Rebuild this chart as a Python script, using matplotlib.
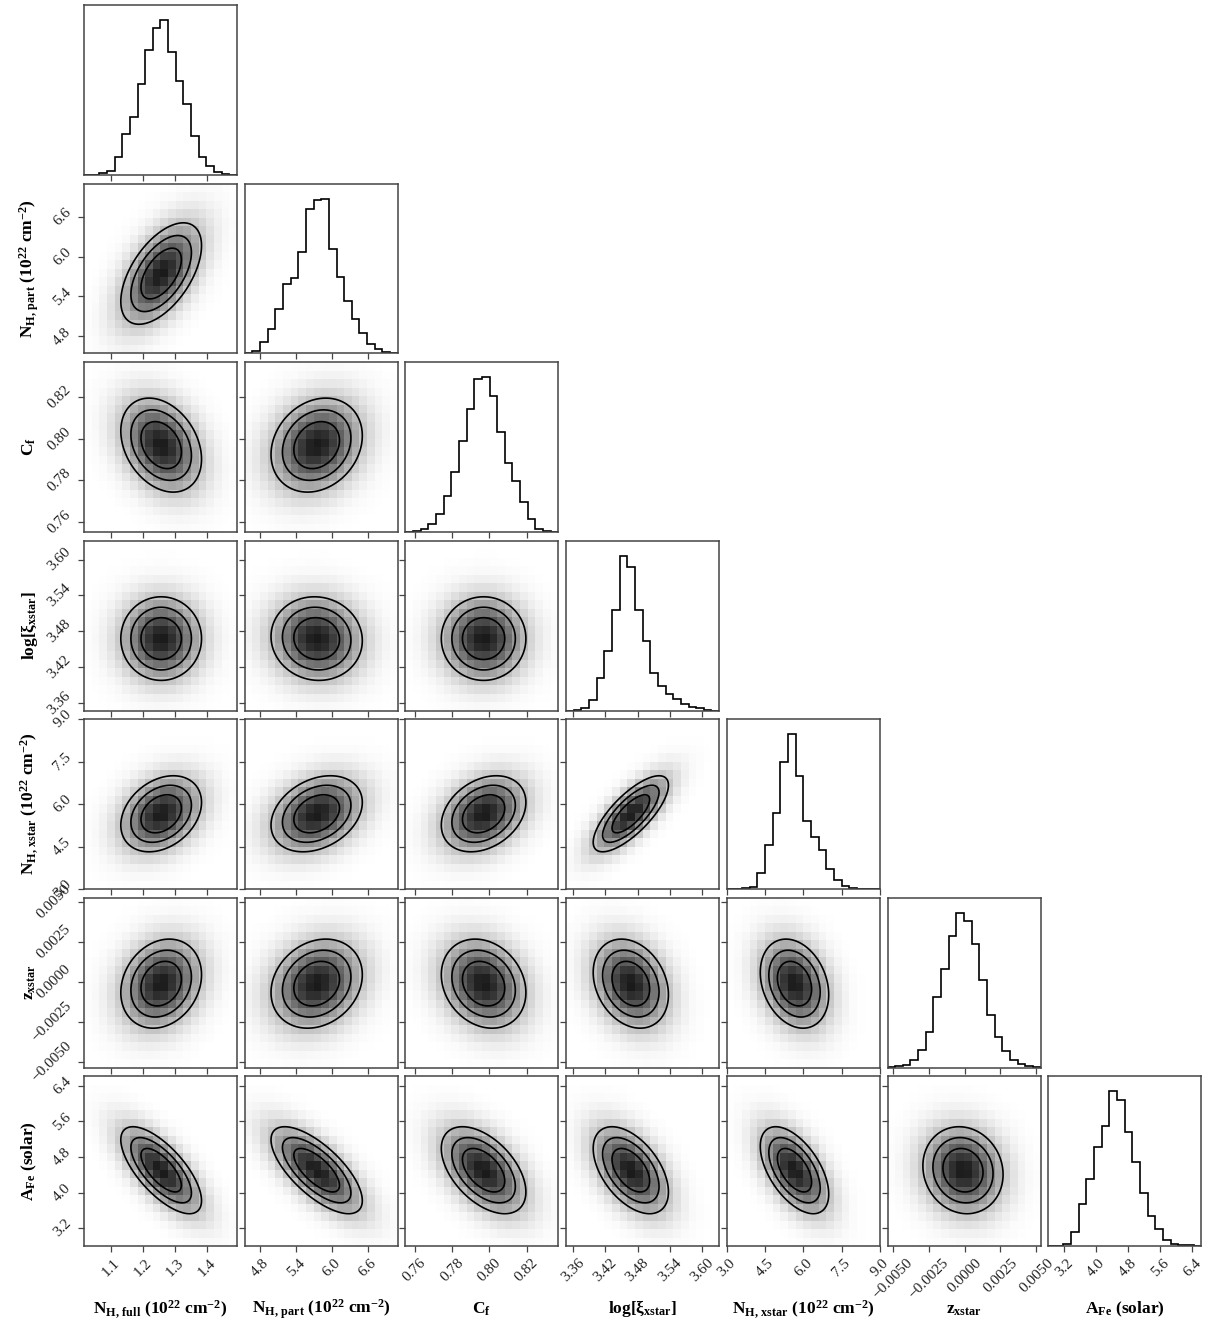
import numpy as np
import matplotlib
matplotlib.use("Agg")
import matplotlib.pyplot as plt
from matplotlib.colors import PowerNorm, LinearSegmentedColormap

plt.rcParams["font.family"] = ["Liberation Serif", "DejaVu Serif"]
plt.rcParams["mathtext.fontset"] = "custom"
plt.rcParams["mathtext.rm"] = "Liberation Serif:bold"
plt.rcParams["mathtext.bf"] = "Liberation Serif:bold"
plt.rcParams["mathtext.it"] = "Liberation Serif:bold"
plt.rcParams["mathtext.default"] = "rm"

# parameter names, plot ranges and ticks
labels = [
    "N$_{\\rm H,\\,full}$ (10$^{22}$ cm$^{-2}$)",
    "N$_{\\rm H,\\,part}$ (10$^{22}$ cm$^{-2}$)",
    "C$_{\\rm f}$",
    "log[ξ$_{\\rm xstar}$]",
    "N$_{\\rm H,\\,xstar}$ (10$^{22}$ cm$^{-2}$)",
    "z$_{\\rm xstar}$",
    "A$_{\\rm Fe}$ (solar)",
]
ranges = [(1.015, 1.495), (4.545, 7.095), (0.755, 0.837), (3.347, 3.632),
          (3.0, 9.0), (-0.00535, 0.00528), (2.80, 6.62)]
ticks = [
    [1.1, 1.2, 1.3, 1.4],
    [4.8, 5.4, 6.0, 6.6],
    [0.76, 0.78, 0.80, 0.82],
    [3.36, 3.42, 3.48, 3.54, 3.60],
    [3.0, 4.5, 6.0, 7.5, 9.0],
    [-0.005, -0.0025, 0.0, 0.0025, 0.005],
    [3.2, 4.0, 4.8, 5.6, 6.4],
]
tick_labels = [
    ["1.1", "1.2", "1.3", "1.4"],
    ["4.8", "5.4", "6.0", "6.6"],
    ["0.76", "0.78", "0.80", "0.82"],
    ["3.36", "3.42", "3.48", "3.54", "3.60"],
    ["3.0", "4.5", "6.0", "7.5", "9.0"],
    ["\u22120.0050", "\u22120.0025", "0.0000", "0.0025", "0.0050"],
    ["3.2", "4.0", "4.8", "5.6", "6.4"],
]

# 1D marginal histograms (20 bins over each range, relative counts)
hist_nh_full = [0, 1, 5, 11, 53, 124, 175, 272, 375, 441, 463, 367, 282, 212, 116, 53, 27, 8, 3, 0]
hist_nh_part = [0, 7, 35, 74, 132, 208, 226, 304, 434, 461, 463, 313, 230, 158, 103, 62, 28, 12, 5, 2]
hist_cf = [1, 4, 9, 25, 53, 107, 180, 271, 367, 457, 461, 406, 299, 207, 151, 89, 40, 10, 2, 0]
hist_logxi = [0, 2, 6, 31, 96, 177, 302, 463, 429, 302, 207, 111, 72, 49, 35, 20, 11, 6, 2, 0]
hist_nh_xstar = [0, 1, 2, 7, 47, 132, 229, 379, 463, 339, 203, 156, 116, 61, 26, 8, 4, 1, 0, 0]
hist_z = [1, 3, 7, 22, 51, 107, 211, 296, 394, 463, 440, 369, 261, 156, 90, 50, 22, 9, 3, 1]
hist_afe = [0, 1, 6, 42, 126, 202, 296, 360, 463, 436, 343, 253, 159, 91, 51, 19, 6, 3, 2, 0]
hists = [hist_nh_full, hist_nh_part, hist_cf, hist_logxi, hist_nh_xstar, hist_z, hist_afe]

rho = np.zeros((7, 7))
rho[1, 0] = 0.55
rho[2, 0], rho[2, 1] = -0.30, 0.20
rho[3, 0], rho[3, 1], rho[3, 2] = 0.0, -0.05, 0.0
rho[4, 0], rho[4, 1], rho[4, 2], rho[4, 3] = 0.30, 0.30, 0.30, 0.75
rho[5, 0], rho[5, 1], rho[5, 2], rho[5, 3], rho[5, 4] = 0.20, 0.20, -0.20, -0.25, -0.25
rho[6, 0], rho[6, 1], rho[6, 2], rho[6, 3], rho[6, 4], rho[6, 5] = -0.70, -0.70, -0.50, -0.50, -0.55, -0.10

n = len(labels)
edges = [np.linspace(lo, hi, 21) for lo, hi in ranges]
centers = [0.5 * (e[1:] + e[:-1]) for e in edges]
means, sds = [], []
for c, h in zip(centers, hists):
    w = np.asarray(h, float)
    m = np.sum(w * c) / w.sum()
    means.append(m)
    sds.append(np.sqrt(np.sum(w * (c - m) ** 2) / w.sum()))


def gauss2d(X, Y, i, j):
    u = (X - means[j]) / sds[j]
    v = (Y - means[i]) / sds[i]
    r = rho[i, j]
    return np.exp(-(u * u - 2 * r * u * v + v * v) / (2 * (1 - r * r)))


density_cmap = LinearSegmentedColormap.from_list("dens", [(1, 1, 1), (0.1, 0.1, 0.1)])

W, H = 1205, 1325
fig = plt.figure(figsize=(W / 100, H / 100), dpi=100)
left0, pitch_x, aw = 84, 160.7, 153
top0, pitch_y, ah = 5, 178.5, 170
frame_col = "#444444"
levels = [np.exp(-2.0), np.exp(-1.125), np.exp(-0.5)]

for i in range(n):
    for j in range(i + 1):
        ax = fig.add_axes([(left0 + j * pitch_x) / W,
                           1 - (top0 + i * pitch_y + ah) / H, aw / W, ah / H])
        for s in ax.spines.values():
            s.set_color(frame_col)
            s.set_linewidth(1.1)
        ax.tick_params(direction="out", length=4, width=0.9, color=frame_col,
                       labelsize=11, labelcolor="#222222")
        if i == j:
            ax.stairs(hists[i], edges[i], color="k", lw=1.2)
            ax.set_ylim(0, 1.1 * max(hists[i]))
            ax.set_yticks([])
        else:
            xe, ye = edges[j], edges[i]
            Xc, Yc = np.meshgrid(centers[j], centers[i])
            ax.pcolormesh(xe, ye, gauss2d(Xc, Yc, i, j), cmap=density_cmap,
                          norm=PowerNorm(0.65, vmin=0, vmax=1), shading="flat")
            xf = np.linspace(ranges[j][0], ranges[j][1], 240)
            yf = np.linspace(ranges[i][0], ranges[i][1], 240)
            Xf, Yf = np.meshgrid(xf, yf)
            ax.contour(Xf, Yf, gauss2d(Xf, Yf, i, j), levels=levels,
                       colors="k", linewidths=1.2)
            ax.set_ylim(ranges[i])
            ax.set_yticks(ticks[i])
            if j == 0:
                ax.set_yticklabels(tick_labels[i], rotation=45, va="center")
                ax.set_ylabel(labels[i], fontsize=12.5, fontweight="bold")
                ax.yaxis.label.set_va("baseline")
                ax.yaxis.set_label_coords(-0.33, 0.5)
            else:
                ax.set_yticklabels([])
        ax.set_xlim(ranges[j])
        ax.set_xticks(ticks[j])
        if i == n - 1:
            ax.set_xticklabels(tick_labels[j], rotation=45, ha="center")
            ax.set_xlabel(labels[j], fontsize=12.5, fontweight="bold")
            ax.xaxis.label.set_va("baseline")
            ax.xaxis.set_label_coords(0.5, -0.395)
        else:
            ax.set_xticklabels([])

fig.savefig("out.png", dpi=100)
